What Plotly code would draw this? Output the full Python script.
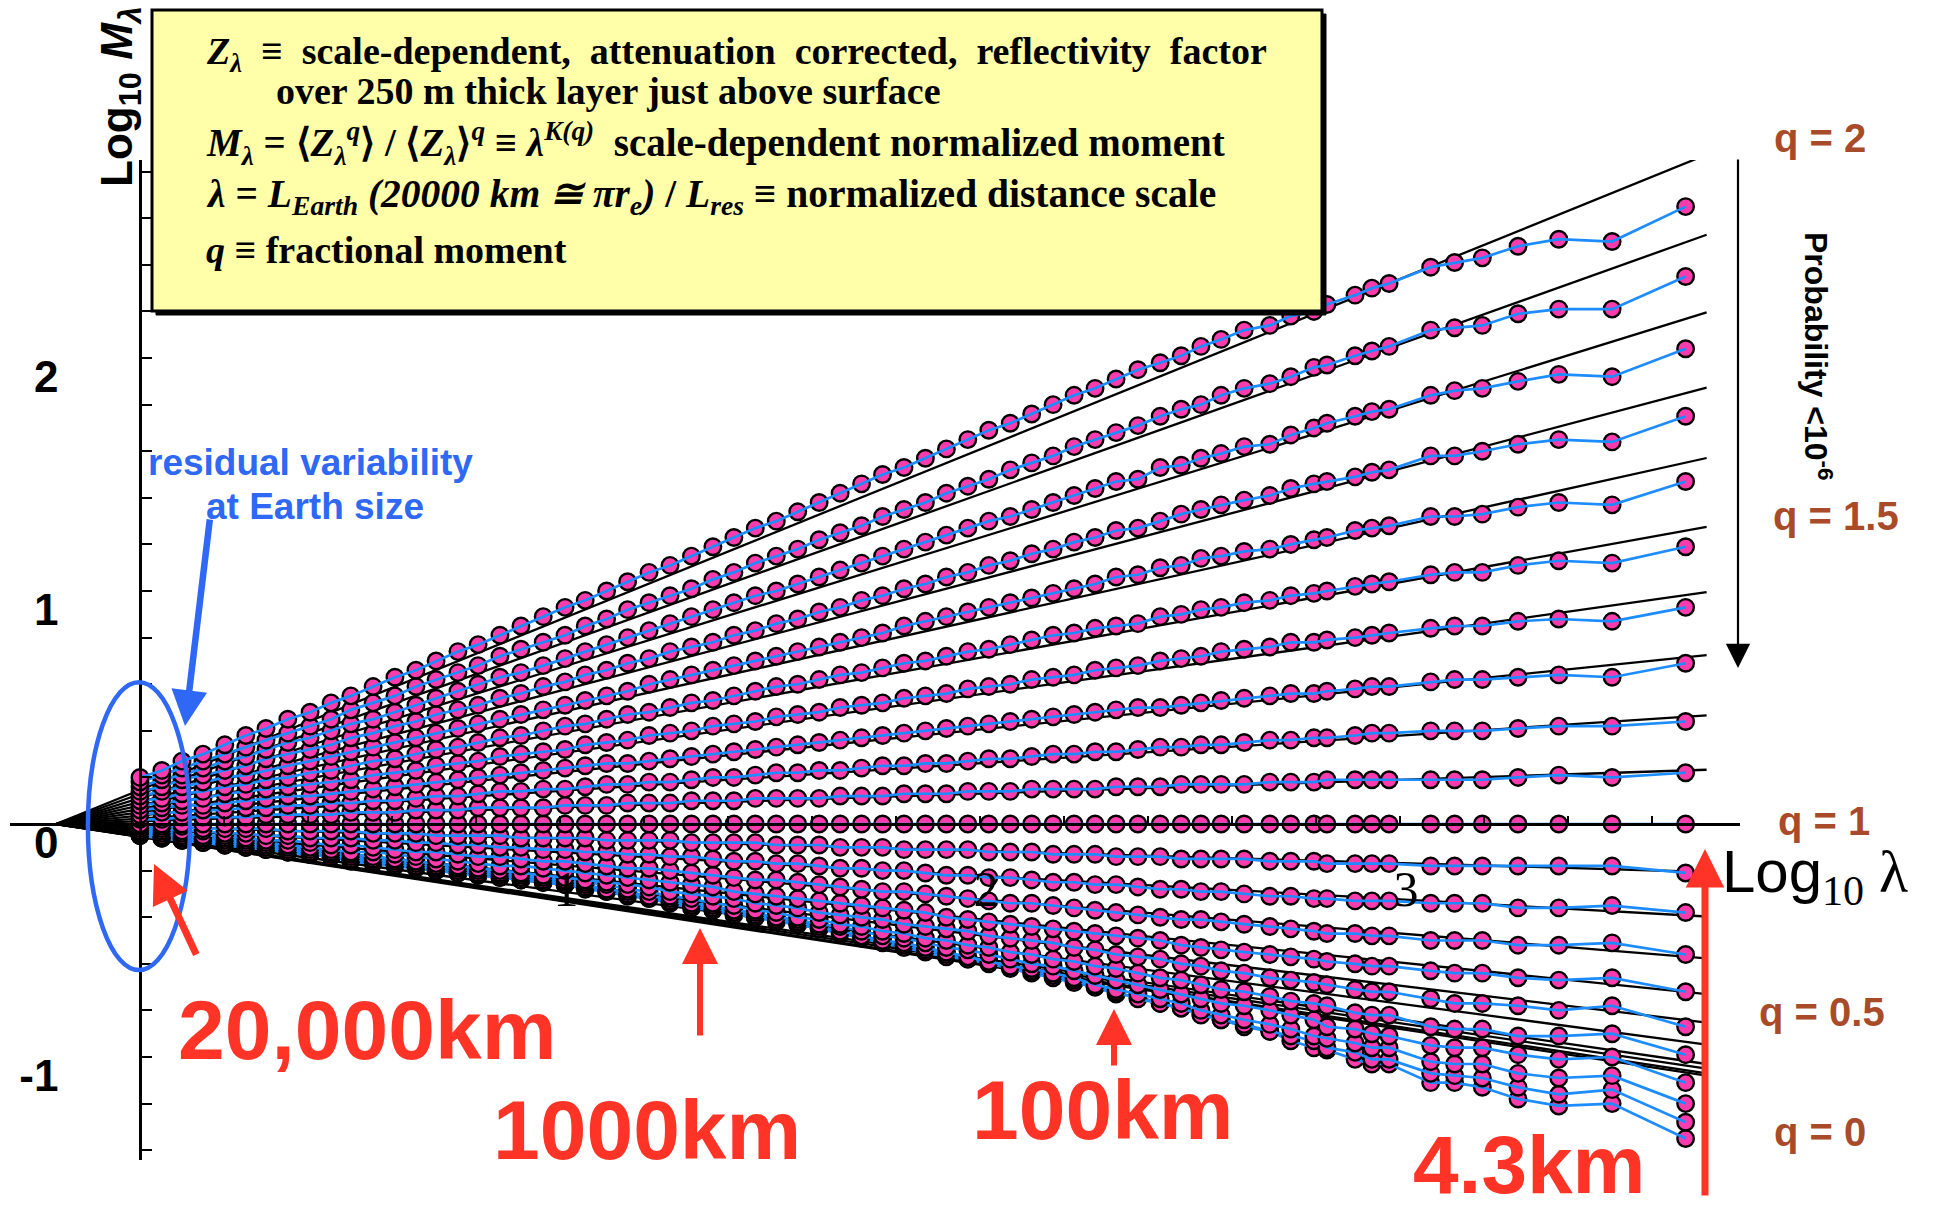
import plotly.graph_objects as go

# ---------------- data ----------------
# x: Log10(lambda), lambda = 20000 km / L_res
log10_lambda = [0.000, 0.052, 0.100, 0.150, 0.202, 0.252, 0.300, 0.352, 0.405, 0.455,
                0.502, 0.555, 0.607, 0.657, 0.705, 0.757, 0.805, 0.857, 0.907, 0.960,
                1.012, 1.060, 1.111, 1.161, 1.212, 1.262, 1.313, 1.364, 1.414, 1.465,
                1.515, 1.566, 1.617, 1.667, 1.718, 1.768, 1.819, 1.870, 1.920, 1.971,
                2.021, 2.072, 2.123, 2.174, 2.224, 2.274, 2.324, 2.376, 2.429, 2.479,
                2.526, 2.574, 2.629, 2.690, 2.740, 2.795, 2.826, 2.893, 2.933, 2.974,
                3.073, 3.130, 3.196, 3.281, 3.378, 3.505, 3.680]

q_values = [2.0, 1.9, 1.8, 1.7, 1.6, 1.5, 1.4, 1.3, 1.2, 1.1, 1.0,
            0.9, 0.8, 0.7, 0.6, 0.5, 0.4, 0.3, 0.2, 0.1, 0.0]

log_m_q20 = [0.20, 0.23, 0.27, 0.30, 0.34, 0.38, 0.41, 0.45, 0.48, 0.52, 0.55,
             0.59, 0.63, 0.66, 0.70, 0.74, 0.77, 0.81, 0.85, 0.89, 0.93, 0.96,
             1.00, 1.04, 1.08, 1.11, 1.15, 1.19, 1.23, 1.27, 1.30, 1.34, 1.38,
             1.42, 1.46, 1.50, 1.53, 1.57, 1.61, 1.65, 1.69, 1.72, 1.76, 1.80,
             1.84, 1.87, 1.91, 1.95, 1.98, 2.01, 2.05, 2.08, 2.12, 2.14, 2.18, 2.20, 2.23,
             2.27, 2.30, 2.32, 2.39, 2.41, 2.43, 2.48, 2.51, 2.50, 2.65]
log_m_q19 = [0.18, 0.21, 0.24, 0.27, 0.30, 0.33, 0.36, 0.39, 0.42, 0.45, 0.49,
             0.52, 0.55, 0.59, 0.62, 0.65, 0.68, 0.72, 0.75, 0.78, 0.81, 0.85,
             0.88, 0.92, 0.95, 0.98, 1.01, 1.05, 1.08, 1.12, 1.15, 1.18, 1.22,
             1.25, 1.28, 1.32, 1.35, 1.38, 1.42, 1.45, 1.48, 1.52, 1.55, 1.58,
             1.62, 1.65, 1.68, 1.71, 1.75, 1.78, 1.80, 1.84, 1.87, 1.89, 1.92, 1.96, 1.97,
             2.01, 2.03, 2.05, 2.12, 2.13, 2.14, 2.19, 2.21, 2.21, 2.35]
log_m_q18 = [0.16, 0.19, 0.21, 0.24, 0.27, 0.29, 0.32, 0.35, 0.37, 0.40, 0.43,
             0.45, 0.48, 0.51, 0.54, 0.57, 0.60, 0.63, 0.65, 0.68, 0.71, 0.74,
             0.77, 0.80, 0.83, 0.86, 0.89, 0.92, 0.95, 0.98, 1.00, 1.03, 1.06,
             1.09, 1.12, 1.15, 1.18, 1.21, 1.24, 1.27, 1.30, 1.32, 1.35, 1.38,
             1.41, 1.44, 1.47, 1.48, 1.53, 1.54, 1.57, 1.59, 1.62, 1.63, 1.67, 1.70, 1.72,
             1.75, 1.77, 1.78, 1.84, 1.86, 1.87, 1.90, 1.93, 1.92, 2.04]
log_m_q17 = [0.14, 0.16, 0.19, 0.21, 0.23, 0.25, 0.28, 0.30, 0.32, 0.34, 0.37,
             0.39, 0.42, 0.44, 0.47, 0.49, 0.51, 0.54, 0.56, 0.59, 0.61, 0.64,
             0.66, 0.69, 0.71, 0.74, 0.76, 0.78, 0.81, 0.83, 0.86, 0.88, 0.91,
             0.93, 0.96, 0.98, 1.01, 1.03, 1.06, 1.08, 1.11, 1.13, 1.16, 1.18,
             1.21, 1.23, 1.26, 1.27, 1.30, 1.33, 1.35, 1.37, 1.39, 1.41, 1.44, 1.46, 1.47,
             1.49, 1.51, 1.52, 1.58, 1.58, 1.60, 1.63, 1.65, 1.64, 1.75]
log_m_q16 = [0.12, 0.14, 0.16, 0.18, 0.20, 0.21, 0.23, 0.25, 0.27, 0.29, 0.31,
             0.33, 0.35, 0.37, 0.39, 0.41, 0.43, 0.45, 0.47, 0.49, 0.51, 0.53,
             0.55, 0.57, 0.60, 0.62, 0.64, 0.66, 0.68, 0.70, 0.72, 0.74, 0.76,
             0.78, 0.80, 0.82, 0.85, 0.87, 0.89, 0.91, 0.93, 0.95, 0.97, 0.99,
             1.01, 1.03, 1.06, 1.07, 1.10, 1.11, 1.14, 1.15, 1.17, 1.18, 1.20, 1.22, 1.23,
             1.26, 1.27, 1.28, 1.32, 1.32, 1.33, 1.36, 1.38, 1.37, 1.47]
log_m_q15 = [0.10, 0.11, 0.13, 0.14, 0.16, 0.17, 0.19, 0.20, 0.22, 0.23, 0.25,
             0.27, 0.28, 0.30, 0.32, 0.33, 0.35, 0.37, 0.38, 0.40, 0.42, 0.43,
             0.45, 0.47, 0.48, 0.50, 0.52, 0.53, 0.55, 0.57, 0.59, 0.60, 0.62,
             0.64, 0.65, 0.67, 0.69, 0.70, 0.72, 0.74, 0.75, 0.77, 0.79, 0.81,
             0.82, 0.84, 0.85, 0.86, 0.89, 0.90, 0.92, 0.93, 0.95, 0.96, 0.98, 0.99, 1.00,
             1.02, 1.03, 1.04, 1.07, 1.08, 1.08, 1.11, 1.13, 1.12, 1.19]
log_m_q14 = [0.08, 0.09, 0.10, 0.11, 0.13, 0.14, 0.15, 0.16, 0.17, 0.18, 0.19,
             0.21, 0.22, 0.23, 0.25, 0.26, 0.27, 0.29, 0.30, 0.31, 0.32, 0.34,
             0.35, 0.36, 0.38, 0.39, 0.40, 0.42, 0.43, 0.44, 0.46, 0.47, 0.48,
             0.50, 0.51, 0.52, 0.54, 0.55, 0.56, 0.58, 0.59, 0.60, 0.62, 0.63,
             0.64, 0.66, 0.67, 0.68, 0.70, 0.71, 0.72, 0.74, 0.75, 0.76, 0.78, 0.78, 0.79,
             0.80, 0.81, 0.82, 0.84, 0.85, 0.85, 0.87, 0.88, 0.87, 0.93]
log_m_q13 = [0.06, 0.07, 0.08, 0.08, 0.09, 0.10, 0.11, 0.12, 0.12, 0.13, 0.14,
             0.15, 0.16, 0.17, 0.18, 0.19, 0.20, 0.21, 0.22, 0.23, 0.24, 0.25,
             0.26, 0.26, 0.27, 0.28, 0.29, 0.30, 0.31, 0.32, 0.33, 0.34, 0.35,
             0.36, 0.37, 0.38, 0.39, 0.40, 0.41, 0.42, 0.43, 0.44, 0.45, 0.46,
             0.47, 0.48, 0.49, 0.50, 0.50, 0.51, 0.52, 0.53, 0.54, 0.55, 0.56, 0.56, 0.57,
             0.58, 0.59, 0.59, 0.61, 0.62, 0.62, 0.63, 0.64, 0.63, 0.69]
log_m_q12 = [0.04, 0.05, 0.05, 0.06, 0.06, 0.07, 0.07, 0.08, 0.08, 0.09, 0.09,
             0.10, 0.10, 0.11, 0.12, 0.12, 0.13, 0.14, 0.14, 0.15, 0.15, 0.16,
             0.17, 0.17, 0.18, 0.18, 0.19, 0.20, 0.20, 0.21, 0.22, 0.22, 0.23,
             0.23, 0.24, 0.25, 0.25, 0.26, 0.26, 0.27, 0.28, 0.28, 0.29, 0.30,
             0.30, 0.31, 0.31, 0.32, 0.33, 0.33, 0.34, 0.34, 0.35, 0.36, 0.36, 0.37, 0.37,
             0.38, 0.39, 0.39, 0.40, 0.40, 0.40, 0.41, 0.42, 0.42, 0.44]
log_m_q11 = [0.02, 0.02, 0.03, 0.03, 0.03, 0.03, 0.04, 0.04, 0.04, 0.04, 0.05,
             0.05, 0.05, 0.06, 0.06, 0.06, 0.07, 0.07, 0.07, 0.07, 0.08, 0.08,
             0.08, 0.09, 0.09, 0.09, 0.10, 0.10, 0.10, 0.11, 0.11, 0.11, 0.11,
             0.12, 0.12, 0.12, 0.13, 0.13, 0.13, 0.14, 0.14, 0.14, 0.15, 0.15,
             0.15, 0.15, 0.16, 0.16, 0.16, 0.17, 0.17, 0.17, 0.17, 0.18, 0.18, 0.18, 0.19,
             0.19, 0.19, 0.19, 0.19, 0.19, 0.19, 0.20, 0.21, 0.20, 0.22]
log_m_q10 = [0.00, 0.00, 0.00, 0.00, 0.00, 0.00, 0.00, 0.00, 0.00, 0.00, 0.00,
             0.00, 0.00, 0.00, 0.00, 0.00, 0.00, 0.00, 0.00, 0.00, 0.00, 0.00,
             0.00, 0.00, 0.00, 0.00, 0.00, 0.00, 0.00, 0.00, 0.00, 0.00, 0.00,
             0.00, 0.00, 0.00, 0.00, 0.00, 0.00, 0.00, 0.00, 0.00, 0.00, 0.00,
             0.00, 0.00, 0.00, 0.00, 0.00, 0.00, 0.00, 0.00, 0.00, 0.00, 0.00, 0.00, 0.00,
             0.00, 0.00, 0.00, 0.00, 0.00, 0.00, 0.00, 0.00, 0.00, 0.00]
log_m_q09 = [-0.01, -0.01, -0.01, -0.02, -0.02, -0.02, -0.02, -0.03, -0.03, -0.03, -0.03,
             -0.04, -0.04, -0.04, -0.05, -0.05, -0.05, -0.05, -0.06, -0.06, -0.06, -0.06,
             -0.07, -0.07, -0.07, -0.07, -0.08, -0.08, -0.08, -0.08, -0.09, -0.09, -0.09,
             -0.10, -0.10, -0.10, -0.11, -0.11, -0.11, -0.11, -0.12, -0.12, -0.12, -0.13,
             -0.13, -0.13, -0.14, -0.14, -0.14, -0.15, -0.15, -0.15, -0.15, -0.16, -0.16, -0.16, -0.17,
             -0.17, -0.17, -0.17, -0.18, -0.18, -0.18, -0.18, -0.18, -0.18, -0.21]
log_m_q08 = [-0.02, -0.02, -0.03, -0.03, -0.04, -0.04, -0.05, -0.05, -0.06, -0.06, -0.06,
             -0.07, -0.07, -0.08, -0.08, -0.09, -0.09, -0.10, -0.10, -0.11, -0.11, -0.12,
             -0.12, -0.13, -0.13, -0.14, -0.14, -0.15, -0.16, -0.16, -0.17, -0.17, -0.18,
             -0.19, -0.19, -0.20, -0.20, -0.21, -0.22, -0.22, -0.23, -0.23, -0.24, -0.25,
             -0.25, -0.26, -0.26, -0.27, -0.28, -0.28, -0.29, -0.29, -0.30, -0.31, -0.31, -0.32, -0.32,
             -0.33, -0.33, -0.33, -0.34, -0.34, -0.34, -0.36, -0.36, -0.35, -0.38]
log_m_q07 = [-0.03, -0.03, -0.04, -0.05, -0.05, -0.06, -0.07, -0.07, -0.08, -0.09, -0.09,
             -0.10, -0.11, -0.12, -0.12, -0.13, -0.14, -0.14, -0.15, -0.16, -0.16, -0.17,
             -0.18, -0.19, -0.19, -0.20, -0.21, -0.22, -0.23, -0.24, -0.24, -0.25, -0.26,
             -0.27, -0.28, -0.29, -0.29, -0.30, -0.31, -0.32, -0.33, -0.34, -0.34, -0.35,
             -0.36, -0.37, -0.38, -0.39, -0.40, -0.41, -0.41, -0.42, -0.43, -0.44, -0.45, -0.46, -0.47,
             -0.47, -0.48, -0.48, -0.50, -0.50, -0.50, -0.52, -0.52, -0.51, -0.56]
log_m_q06 = [-0.03, -0.04, -0.05, -0.06, -0.06, -0.07, -0.08, -0.09, -0.10, -0.11, -0.12,
             -0.12, -0.13, -0.14, -0.15, -0.16, -0.17, -0.18, -0.18, -0.19, -0.20, -0.21,
             -0.22, -0.23, -0.24, -0.25, -0.26, -0.27, -0.29, -0.30, -0.31, -0.32, -0.33,
             -0.34, -0.35, -0.36, -0.37, -0.38, -0.40, -0.41, -0.42, -0.43, -0.44, -0.45,
             -0.46, -0.47, -0.48, -0.49, -0.50, -0.52, -0.53, -0.54, -0.55, -0.56, -0.57, -0.58, -0.59,
             -0.60, -0.61, -0.61, -0.63, -0.64, -0.64, -0.66, -0.67, -0.66, -0.72]
log_m_q05 = [-0.04, -0.05, -0.05, -0.06, -0.07, -0.08, -0.09, -0.10, -0.11, -0.12, -0.13,
             -0.14, -0.15, -0.16, -0.17, -0.18, -0.19, -0.20, -0.21, -0.22, -0.23, -0.24,
             -0.25, -0.26, -0.27, -0.29, -0.30, -0.31, -0.32, -0.34, -0.35, -0.36, -0.38,
             -0.39, -0.40, -0.41, -0.43, -0.44, -0.45, -0.46, -0.48, -0.49, -0.50, -0.51,
             -0.53, -0.54, -0.56, -0.57, -0.58, -0.60, -0.61, -0.63, -0.64, -0.66, -0.67, -0.68, -0.69,
             -0.71, -0.72, -0.72, -0.75, -0.77, -0.77, -0.78, -0.80, -0.78, -0.87]
log_m_q04 = [-0.04, -0.05, -0.06, -0.07, -0.08, -0.09, -0.10, -0.11, -0.12, -0.13, -0.14,
             -0.15, -0.16, -0.17, -0.18, -0.19, -0.20, -0.21, -0.22, -0.23, -0.24, -0.25,
             -0.26, -0.28, -0.29, -0.31, -0.32, -0.34, -0.35, -0.37, -0.38, -0.40, -0.41,
             -0.43, -0.44, -0.46, -0.47, -0.49, -0.50, -0.52, -0.53, -0.55, -0.56, -0.58,
             -0.59, -0.61, -0.62, -0.64, -0.66, -0.67, -0.69, -0.71, -0.72, -0.74, -0.76, -0.77, -0.78,
             -0.81, -0.82, -0.82, -0.87, -0.88, -0.88, -0.91, -0.91, -0.90, -0.99]
log_m_q03 = [-0.04, -0.05, -0.06, -0.07, -0.08, -0.09, -0.10, -0.11, -0.12, -0.13, -0.15,
             -0.16, -0.17, -0.18, -0.19, -0.20, -0.21, -0.22, -0.23, -0.24, -0.25, -0.26,
             -0.28, -0.29, -0.31, -0.32, -0.34, -0.35, -0.37, -0.38, -0.40, -0.41, -0.43,
             -0.44, -0.46, -0.48, -0.49, -0.51, -0.53, -0.54, -0.56, -0.58, -0.60, -0.61,
             -0.63, -0.65, -0.67, -0.69, -0.71, -0.73, -0.75, -0.77, -0.78, -0.80, -0.82, -0.84, -0.87,
             -0.88, -0.90, -0.91, -0.95, -0.96, -0.96, -0.99, -1.01, -1.00, -1.11]
log_m_q02 = [-0.05, -0.06, -0.07, -0.08, -0.09, -0.10, -0.11, -0.12, -0.13, -0.14, -0.15,
             -0.16, -0.17, -0.18, -0.19, -0.20, -0.21, -0.22, -0.23, -0.25, -0.26, -0.27,
             -0.28, -0.30, -0.31, -0.33, -0.35, -0.36, -0.38, -0.39, -0.41, -0.42, -0.44,
             -0.46, -0.48, -0.50, -0.51, -0.53, -0.55, -0.57, -0.59, -0.61, -0.62, -0.64,
             -0.66, -0.69, -0.71, -0.73, -0.75, -0.77, -0.80, -0.82, -0.84, -0.86, -0.88, -0.91, -0.92,
             -0.94, -0.96, -0.96, -1.02, -1.03, -1.03, -1.07, -1.09, -1.08, -1.20]
log_m_q01 = [-0.05, -0.06, -0.07, -0.08, -0.09, -0.10, -0.11, -0.12, -0.13, -0.14, -0.15,
             -0.16, -0.17, -0.18, -0.20, -0.21, -0.22, -0.23, -0.24, -0.25, -0.26, -0.27,
             -0.29, -0.30, -0.32, -0.33, -0.35, -0.37, -0.38, -0.40, -0.41, -0.43, -0.45,
             -0.46, -0.48, -0.50, -0.52, -0.54, -0.56, -0.58, -0.59, -0.61, -0.63, -0.65,
             -0.67, -0.70, -0.72, -0.75, -0.77, -0.79, -0.82, -0.84, -0.86, -0.89, -0.91, -0.93, -0.96,
             -0.98, -1.01, -1.01, -1.07, -1.08, -1.09, -1.13, -1.16, -1.14, -1.28]
log_m_q00 = [-0.05, -0.06, -0.07, -0.08, -0.09, -0.10, -0.11, -0.12, -0.13, -0.14, -0.16,
             -0.17, -0.18, -0.19, -0.20, -0.21, -0.22, -0.23, -0.24, -0.25, -0.26, -0.28,
             -0.29, -0.31, -0.32, -0.34, -0.36, -0.37, -0.39, -0.40, -0.42, -0.43, -0.45,
             -0.47, -0.49, -0.51, -0.53, -0.55, -0.57, -0.58, -0.60, -0.62, -0.64,
             -0.66, -0.68, -0.70, -0.73, -0.74, -0.77, -0.79, -0.81, -0.84, -0.87, -0.89, -0.93, -0.96, -0.97,
             -1.01, -1.03, -1.03, -1.11, -1.11, -1.13, -1.18, -1.21, -1.20, -1.35]

log_m_rows = [log_m_q20, log_m_q19, log_m_q18, log_m_q17, log_m_q16, log_m_q15, log_m_q14,
              log_m_q13, log_m_q12, log_m_q11, log_m_q10, log_m_q09, log_m_q08, log_m_q07,
              log_m_q06, log_m_q05, log_m_q04, log_m_q03, log_m_q02, log_m_q01, log_m_q00]

# straight-line fits: all start at the outer-scale origin and end at fit_x_end
fit_x_start = -0.2
fit_x_end = 3.73
fit_end_value = [2.873, 2.529, 2.196, 1.873, 1.571, 1.275, 0.995, 0.725, 0.466, 0.233, 0.0,
                 -0.206, -0.397, -0.577, -0.730, -0.852, -0.947, -1.030, -1.050, -1.070, -1.080]

x_tick_values = [0.2, 0.4, 0.6, 0.8, 1.0, 1.2, 1.4, 1.6, 1.8, 2.0, 2.2, 2.4, 2.6, 2.8, 3.0, 3.2, 3.4, 3.6]
x_tick_labels = ['', '', '', '', '1', '', '', '', '', '2', '', '', '', '', '3', '', '', '']
y_tick_values = [-1.4, -1.2, -1.0, -0.8, -0.6, -0.4, -0.2, 0.0, 0.2, 0.4, 0.6, 0.8, 1.0,
                 1.2, 1.4, 1.6, 1.8, 2.0, 2.2, 2.4, 2.6, 2.8]
y_tick_labels = ['', '', '<b>-1</b>', '', '', '', '', '<b>0</b>', '', '', '', '', '<b>1</b>',
                 '', '', '', '', '<b>2</b>', '', '', '', '']

# ---------------- styling ----------------
W, H = 1935, 1213
SANS = 'Arial, Liberation Sans, sans-serif'
SERIF = 'Times New Roman, Liberation Serif, serif'
PINK = '#FC3CAC'
DATA_BLUE = '#1C8CFF'
NOTE_BLUE = '#2E68F5'
RED = '#FF3326'
BROWN = '#A94B29'


def fx(p):
    return p / W


def fy(p):
    return 1 - p / H


fig = go.Figure()

# fitted black lines (drawn first, beneath the data)
for end_val in fit_end_value:
    fig.add_trace(go.Scatter(x=[fit_x_start, fit_x_end], y=[0.0, end_val], mode='lines',
                             line=dict(color='black', width=2.3), hoverinfo='skip'))

# data rows: from q = 0 (bottom) up to q = 2 (top), markers then connecting blue line
for q, row in reversed(list(zip(q_values, log_m_rows))):
    fig.add_trace(go.Scatter(x=log10_lambda, y=row, mode='markers',
                             marker=dict(size=16.5, color=PINK, line=dict(color='black', width=2.4)),
                             name=f'q={q}'))
    fig.add_trace(go.Scatter(x=log10_lambda, y=row, mode='lines',
                             line=dict(color=DATA_BLUE, width=2.7), hoverinfo='skip'))

annotations = []


def add_text(x, y, s, size, color='black', family=SANS, xanchor='center', yanchor='middle', angle=0):
    annotations.append(dict(x=fx(x), y=fy(y), xref='paper', yref='paper', text=s, showarrow=False,
                            font=dict(size=size, color=color, family=family),
                            xanchor=xanchor, yanchor=yanchor, textangle=angle))


def add_arrow(hx, hy, tx, ty, color, width, headsize):
    annotations.append(dict(x=fx(hx), y=fy(hy), xref='paper', yref='paper',
                            ax=tx - hx, ay=ty - hy, text='', showarrow=True,
                            arrowhead=2, arrowsize=headsize, arrowwidth=width,
                            arrowcolor=color, standoff=0, startstandoff=0))


NB = '\u00a0'
# text box content
add_text(204, 54, '<b><i>Z</i><sub><i>λ</i></sub>' + NB + ' ≡ ' + NB + 'scale-dependent,' + NB + ' attenuation' + NB +
         ' corrected,' + NB + ' reflectivity' + NB + ' factor</b>', 38, family=SERIF, xanchor='left')
add_text(274, 91, '<b>over 250 m thick layer just above surface</b>', 38, family=SERIF, xanchor='left')
add_text(204, 143, '<b><i>M</i><sub><i>λ</i></sub> = ⟨<i>Z</i><sub><i>λ</i></sub><sup><i>q</i></sup>⟩' + NB + '/' + NB + '⟨<i>Z</i>'
         '<sub><i>λ</i></sub>⟩<sup><i>q</i></sup> ≡ <i>λ</i><sup><i>K(q)</i></sup>' + NB + ' scale-dependent normalized moment</b>',
         39, family=SERIF, xanchor='left')
add_text(204, 197, '<b><i>λ</i> = <i>L</i><sub><i>Earth</i></sub>' + NB + '<i>(20000 km ≅ πr</i><sub><i>e</i></sub><i>)</i>' + NB + '/' + NB +
         '<i>L</i><sub><i>res</i></sub> ≡ normalized distance scale</b>', 39.5, family=SERIF, xanchor='left')
add_text(204, 250, '<b><i>q</i> ≡ fractional moment</b>', 38, family=SERIF, xanchor='left')

# axis titles
add_text(120, 97, '<b>Log<sub>10</sub> <i>M</i><sub><i>λ</i></sub></b>', 44, angle=-90)
add_text(1720, 876, 'Log<sub><span style="font-family:Liberation Serif">10</span></sub>'
         '<span style="font-family:Liberation Serif"> λ</span>', 60, xanchor='left')

# q labels
add_text(1820, 138, '<b>q = 2</b>', 40, color=BROWN)
add_text(1836, 516, '<b>q = 1.5</b>', 40, color=BROWN)
add_text(1824, 821, '<b>q = 1</b>', 40, color=BROWN)
add_text(1822, 1012, '<b>q = 0.5</b>', 40, color=BROWN)
add_text(1820, 1132, '<b>q = 0</b>', 40, color=BROWN)

# probability note
add_text(1818, 356, '<b>Probability &lt;10<sup>-6</sup></b>', 32, angle=90)
add_arrow(1738, 668, 1738, 158, 'black', 2.2, 2.2)

# residual variability note
add_text(310, 463, '<b>residual variability</b>', 37, color=NOTE_BLUE)
add_text(315, 506, '<b>at Earth size</b>', 37, color=NOTE_BLUE)
add_arrow(185, 726, 210, 518, NOTE_BLUE, 6.5, 1.1)

# scale markers
add_text(367, 1030, '<b>20,000km</b>', 84, color=RED)
add_arrow(154, 864, 197, 956, RED, 7, 1.1)
add_text(647, 1130, '<b>1000km</b>', 84, color=RED)
add_arrow(700, 928, 700, 1037, RED, 6, 1.2)
add_text(1103, 1110, '<b>100km</b>', 84, color=RED)
add_arrow(1114, 1009, 1114, 1067, RED, 6, 1.2)
add_text(1529, 1164, '<b>4.3km</b>', 82, color=RED)
add_arrow(1705, 849, 1705, 1197, RED, 7, 1.1)

shapes = [
    dict(type='rect', xref='paper', yref='paper', x0=fx(156), x1=fx(1326), y0=fy(315), y1=fy(14),
         fillcolor='black', line=dict(color='black', width=1), layer='above'),
    dict(type='rect', xref='paper', yref='paper', x0=fx(152), x1=fx(1322), y0=fy(311), y1=fy(10),
         fillcolor='#FFFFAA', line=dict(color='black', width=3), layer='above'),
    dict(type='circle', xref='x', yref='y', x0=-0.124, x1=0.119, y0=-0.627, y1=0.609,
         line=dict(color=NOTE_BLUE, width=4.5), layer='above'),
]

fig.update_layout(
    width=W, height=H,
    margin=dict(l=0, r=0, t=0, b=0),
    paper_bgcolor='white', plot_bgcolor='rgba(0,0,0,0)',
    showlegend=False,
    xaxis=dict(range=[-0.3095, 3.8095], domain=[fx(10), fx(1740)], anchor='free', position=fy(824),
               showline=True, linecolor='black', linewidth=2.5, showgrid=False, zeroline=False,
               tickmode='array', tickvals=x_tick_values, ticktext=x_tick_labels,
               ticks='inside', ticklen=7, tickwidth=1.5, tickcolor='black',
               tickfont=dict(family=SERIF, size=50, color='black'),
               ticklabelstandoff=20, ticklabelshift=6, fixedrange=True),
    yaxis=dict(range=[-1.442, 2.85], domain=[fy(1160), fy(160)], anchor='free', position=fx(140),
               side='left', showline=True, linecolor='black', linewidth=2.5, showgrid=False,
               zeroline=False, tickmode='array', tickvals=y_tick_values, ticktext=y_tick_labels,
               ticks='inside', ticklen=10, tickwidth=2, tickcolor='black',
               tickfont=dict(family=SANS, size=44, color='black'),
               ticklabelstandoff=72, ticklabelshift=19, fixedrange=True),
    annotations=annotations,
    shapes=shapes,
)

fig.write_html('out.html', post_script="document.body.style.margin='0';",
               config={'displayModeBar': False})
